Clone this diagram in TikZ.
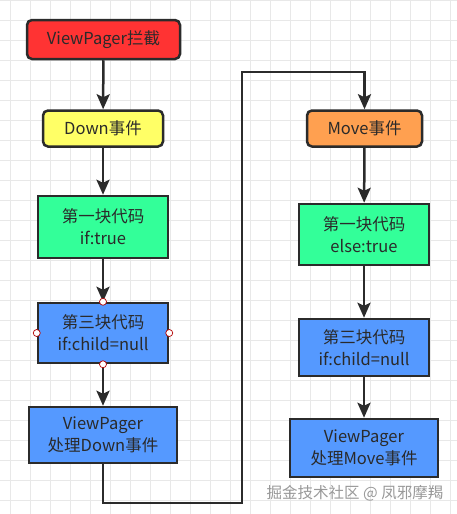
\documentclass[tikz,border=0pt]{standalone}
\usepackage{fontspec}
\setmainfont{Noto Sans CJK SC}
\usetikzlibrary{arrows.meta}
\definecolor{bordc}{HTML}{2B2B2B}
\definecolor{redc}{HTML}{FF3333}
\definecolor{yelc}{HTML}{FFFF66}
\definecolor{grnc}{HTML}{33FF99}
\definecolor{bluc}{HTML}{5599FF}
\definecolor{orac}{HTML}{FFA050}
\definecolor{gridc}{HTML}{E8E8E8}
\definecolor{txtc}{HTML}{2A2A2A}
\definecolor{wmc}{HTML}{999999}
\tikzset{
  box/.style={draw=bordc, line width=2.5pt, inner sep=0pt, align=center,
    text=txtc, font=\fontsize{16.5}{22}\selectfont},
  rbox/.style={box, rounded corners=5pt},
  conn/.style={draw=bordc, line width=2.5pt,
    -{Stealth[length=15pt,width=13pt,inset=3pt]}},
  handle/.style={circle, draw=red!70!black, fill=white, line width=0.7pt,
    minimum size=7pt, inner sep=0pt},
}
\begin{document}
\begin{tikzpicture}[x=1pt,y=-1pt]
\useasboundingbox (0,0) rectangle (457,514);
\fill[white] (0,0) rectangle (457,514);
\foreach \gx in {10,30,...,450} \draw[gridc, line width=0.8pt] (\gx,0) -- (\gx,514);
\foreach \gy in {0,20,...,510} \draw[gridc, line width=0.8pt] (0,\gy) -- (457,\gy);

\node[rbox, fill=redc, minimum width=153pt, minimum height=39pt] (vp) at (103.5,39.5) {ViewPager拦截};
\node[rbox, fill=yelc, minimum width=120pt, minimum height=36pt] (down) at (103,128.5) {Down事件};
\node[box, fill=grnc, minimum width=130pt, minimum height=62pt] (g1) at (103,227) {第一块代码\\if:true};
\node[box, fill=bluc, minimum width=130pt, minimum height=60pt] (b1) at (103,333) {第三块代码\\if:child=null};
\node[box, fill=bluc, minimum width=148pt, minimum height=56pt] (b2) at (103,435) {ViewPager\\处理Down事件};

\node[rbox, fill=orac, minimum width=115pt, minimum height=36pt] (move) at (364.5,128.5) {Move事件};
\node[box, fill=grnc, minimum width=130pt, minimum height=61pt] (g2) at (364,234.5) {第一块代码\\else:true};
\node[box, fill=bluc, minimum width=130pt, minimum height=57pt] (b3) at (364,347.5) {第三块代码\\if:child=null};
\node[box, fill=bluc, minimum width=148pt, minimum height=58pt] (b4) at (364,448) {ViewPager\\处理Move事件};

\coordinate (c1) at (242,503);
\coordinate (c2) at (242,72);

\draw[conn] (vp) -- (down);
\draw[conn] (down) -- (g1);
\draw[conn] (g1) -- (b1);
\draw[conn] (b1) -- (b2);
\draw[conn] (b2.south) |- (c1) -- (c2) -| (move.north);
\draw[conn] (move) -- (g2);
\draw[conn] (g2) -- (b3);
\draw[conn] (b3) -- (b4);

\node[handle] (h1) at (b1.north) {};
\node[handle] (h2) at (b1.south) {};
\node[handle] (h3) at (b1.west) {};
\node[handle] (h4) at (b1.east) {};

\node[text=wmc, font=\fontsize{15.5}{18}\selectfont] (wm) at (355,493) {掘金技术社区 @ 凤邪摩羯};
\end{tikzpicture}
\end{document}
